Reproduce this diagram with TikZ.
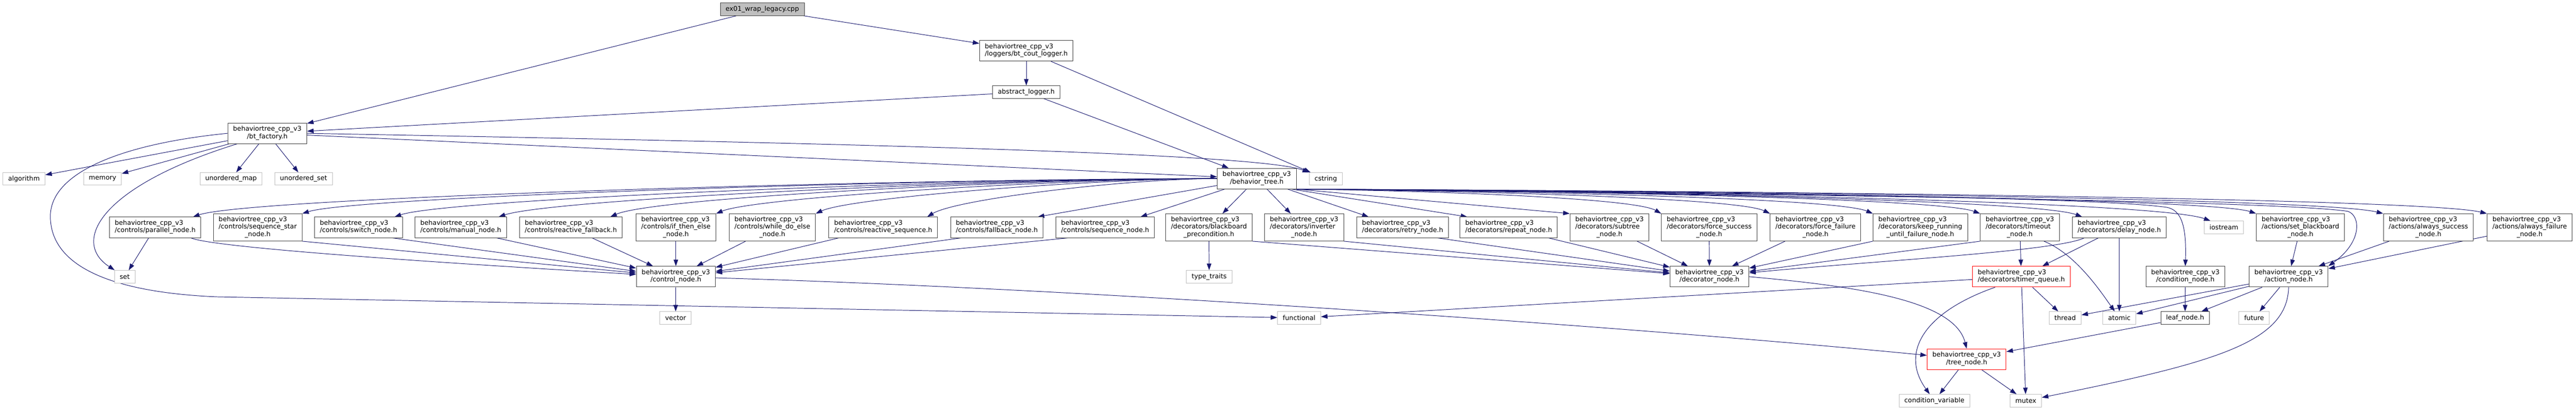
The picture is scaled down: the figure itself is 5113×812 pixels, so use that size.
\documentclass[tikz,border=0pt]{standalone}
\usepackage{fontspec}
\setmainfont{DejaVu Sans}
\usetikzlibrary{arrows.meta,backgrounds}
\definecolor{edgeblue}{HTML}{191970}
\newcommand{\inctwo}[1]{\begin{tabular}{@{}l@{}}behaviortree\_cpp\_v3\\\hfil#1\end{tabular}}
\newcommand{\incthree}[2]{\begin{tabular}{@{}l@{}}behaviortree\_cpp\_v3\\#1\\\hfil#2\end{tabular}}

\begin{document}
\begin{tikzpicture}[x=1pt,y=-1pt,
    every node/.style={font=\fontsize{13}{14.5}\selectfont},
    hdr/.style={rectangle,draw=black!75,fill=white,line width=1pt,inner xsep=10.5pt,inner ysep=0pt,minimum height=41pt},
    hdrtall/.style={hdr,minimum height=54pt},
    hdrline/.style={hdr,minimum height=25pt},
    ext/.style={hdrline,draw=black!25},
    trunc/.style={hdr,draw=red},
    root/.style={hdrline,fill=black!25},
    arrow/.style={-{Triangle[length=13pt,width=9pt]},draw=edgeblue,line width=1pt}
]
\useasboundingbox (0,0) rectangle (5113,812);

% Root and loggers
\node[root] (root) at (1513,18.5) {ex01\_wrap\_legacy.cpp};
\node[hdr] (coutlog) at (2037,101) {\inctwo{/loggers/bt\_cout\_logger.h}};
\node[hdrline] (abslog) at (2037,183) {abstract\_logger.h};

% Factory and tree
\node[hdr] (factory) at (530.5,265) {\inctwo{/bt\_factory.h}};
\node[hdr] (btree) at (2494.5,355) {\inctwo{/behavior\_tree.h}};

% System headers
\node[ext] (algorithm) at (47.5,355.5) {algorithm};
\node[ext] (memory) at (203.5,355.5) {memory};
\node[ext] (umap) at (458.5,355.5) {unordered\_map};
\node[ext] (uset) at (602.5,355.5) {unordered\_set};
\node[ext] (cstring) at (2631.5,355.5) {cstring};

% Controls
\node[hdr] (parallel) at (308,452) {\inctwo{/controls/parallel\_node.h}};
\node[hdrtall] (seqstar) at (511.5,452) {\incthree{/controls/sequence\_star}{\_node.h}};
\node[hdr] (switchn) at (711.5,452) {\inctwo{/controls/switch\_node.h}};
\node[hdr] (manual) at (914.5,452) {\inctwo{/controls/manual\_node.h}};
\node[hdr] (rfallback) at (1133,452) {\inctwo{/controls/reactive\_fallback.h}};
\node[hdrtall] (ifelse) at (1341.5,452) {\incthree{/controls/if\_then\_else}{\_node.h}};
\node[hdrtall] (whiledo) at (1533,452) {\incthree{/controls/while\_do\_else}{\_node.h}};
\node[hdr] (rseq) at (1753,452) {\inctwo{/controls/reactive\_sequence.h}};
\node[hdr] (fallback) at (1978.5,452) {\inctwo{/controls/fallback\_node.h}};
\node[hdr] (sequence) at (2193.5,452) {\inctwo{/controls/sequence\_node.h}};

% Decorators
\node[hdrtall] (bbprecond) at (2399.5,452) {\incthree{/decorators/blackboard}{\_precondition.h}};
\node[hdrtall] (inverter) at (2588.5,452) {\incthree{/decorators/inverter}{\_node.h}};
\node[hdr] (retry) at (2784,452) {\inctwo{/decorators/retry\_node.h}};
\node[hdr] (repeat) at (2994.5,452) {\inctwo{/decorators/repeat\_node.h}};
\node[hdrtall] (subtree) at (3194.5,452) {\incthree{/decorators/subtree}{\_node.h}};
\node[hdrtall] (fsuccess) at (3392.5,452) {\incthree{/decorators/force\_success}{\_node.h}};
\node[hdrtall] (ffailure) at (3603.5,452) {\incthree{/decorators/force\_failure}{\_node.h}};
\node[hdrtall] (keeprun) at (3811.5,452) {\incthree{/decorators/keep\_running}{\_until\_failure\_node.h}};
\node[hdrtall] (timeout) at (4009,452) {\incthree{/decorators/timeout}{\_node.h}};
\node[hdr] (delay) at (4206.5,452) {\inctwo{/decorators/delay\_node.h}};

% Actions
\node[ext] (iostream) at (4414,452) {iostream};
\node[hdrtall] (setbb) at (4566,452) {\incthree{/actions/set\_blackboard}{\_node.h}};
\node[hdrtall] (asuccess) at (4820,452) {\incthree{/actions/always\_success}{\_node.h}};
\node[hdrtall] (afailure) at (5021,452) {\incthree{/actions/always\_failure}{\_node.h}};

% Base nodes
\node[ext] (set) at (247.5,550) {set};
\node[hdr] (control) at (1341.5,550) {\inctwo{/control\_node.h}};
\node[ext] (typetraits) at (2400,550) {type\_traits};
\node[hdr] (decorator) at (3393,550) {\inctwo{/decorator\_node.h}};
\node[trunc] (timerq) at (4012,550) {\inctwo{/decorators/timer\_queue.h}};
\node[hdr] (condition) at (4337.5,550) {\inctwo{/condition\_node.h}};
\node[hdr] (action) at (4542.5,550) {\inctwo{/action\_node.h}};

% Lower level
\node[ext] (vector) at (1341,632) {vector};
\node[ext] (functional) at (2578.5,632) {functional};
\node[ext] (thread) at (4099,632) {thread};
\node[ext] (atomic) at (4206.5,632) {atomic};
\node[hdrline] (leaf) at (4337,632) {leaf\_node.h};
\node[ext] (future) at (4474,632) {future};
\node[trunc] (treenode) at (3903.5,714) {\inctwo{/tree\_node.h}};
\node[ext] (condvar) at (3839.5,796.5) {condition\_variable};
\node[ext] (mutex) at (4021,796.5) {mutex};

\begin{scope}[on background layer]
% Root and loggers
\draw[arrow] (root) -- (factory);
\draw[arrow] (root) -- (coutlog);
\draw[arrow] (coutlog) -- (abslog);
\draw[arrow] (coutlog) -- (cstring);
\draw[arrow] (abslog) -- (factory);
\draw[arrow] (abslog) -- (btree);

% Factory
\draw[arrow] (factory) -- (algorithm);
\draw[arrow] (factory) -- (memory);
\draw[arrow] (factory) -- (umap);
\draw[arrow] (factory) -- (uset);
\draw[arrow] (factory) -- (btree);
\draw[arrow] (factory.east) .. controls (1700,285) and (2500,305) .. (cstring);
\draw[arrow] ([xshift=19pt]factory.south west) .. controls (200,370) and (140,480) .. (set);
\draw[arrow] (factory.west) .. controls (250,285) and (100,340) .. (100,430) .. controls (100,520) and (200,580) .. (430,590) -- (functional);

% Behavior tree, left side
\draw[arrow] (btree) .. controls (1805,355) and (500,392) .. ([xshift=-16pt]parallel.north east);
\draw[arrow] (btree) .. controls (1870,355) and (710,390) .. (seqstar.north east);
\draw[arrow] (btree) .. controls (1925,355) and (890,395) .. ([xshift=-16pt]switchn.north east);
\draw[arrow] (btree) .. controls (1987,355) and (1100,395) .. ([xshift=-16pt]manual.north east);
\draw[arrow] (btree) .. controls (2054,355) and (1300,392) .. ([xshift=-24pt]rfallback.north east);
\draw[arrow] (btree) .. controls (2117,355) and (1500,392) .. (ifelse.north east);
\draw[arrow] (btree) .. controls (2177,355) and (1690,392) .. (whiledo.north east);
\draw[arrow] (btree) .. controls (2242,355) and (1900,395) .. ([xshift=-21pt]rseq.north east);
\draw[arrow] (btree) -- ([xshift=-11pt]fallback.north east);
\draw[arrow] (btree) -- ([xshift=-28pt]sequence.north east);
\draw[arrow] (btree) -- (bbprecond);
\draw[arrow] (btree) -- (inverter);

% Behavior tree, right side
\draw[arrow] (btree) -- ([xshift=24pt]retry.north west);
\draw[arrow] ([xshift=-10pt]btree.south east) -- ([xshift=15pt]repeat.north west);
\draw[arrow] (btree.south east) -- (subtree.north west);
\draw[arrow] (btree.south east) .. controls (2791,378) and (3241,392) .. (fsuccess.north west);
\draw[arrow] (btree.south east) .. controls (2856,378) and (3446,392) .. (ffailure.north west);
\draw[arrow] (btree.south east) .. controls (2917,378) and (3641,392) .. (keeprun.north west);
\draw[arrow] (btree.south east) .. controls (2981,378) and (3842,392) .. (timeout.north west);
\draw[arrow] (btree.south east) .. controls (3042,378) and (4035,395) .. ([xshift=20pt]delay.north west);
\draw[arrow] (btree.south east) .. controls (3118,378) and (4275,398) .. ([xshift=13pt]iostream.north west);
\draw[arrow] (btree.south east) .. controls (3145,378) and (4380,392) .. (setbb.north west);
\draw[arrow] (btree.south east) .. controls (3220,378) and (4600,392) .. (asuccess.north west);
\draw[arrow] (btree.south east) .. controls (3282,378) and (4800,392) .. (afailure.north west);
\draw[arrow] (btree.south east) .. controls (3800,385) and (4200,398) .. (4300,412) .. controls (4330,417) and (4340,450) .. (condition.north);
\draw[arrow] (btree.south east) .. controls (4000,390) and (4560,405) .. (4660,420) .. controls (4685,428) and (4690,480) .. (action.north east);

% Controls into control node
\draw[arrow] (parallel) -- (set);
\draw[arrow] ([xshift=-20pt]parallel.south east) .. controls (430,495) and (1000,530) .. (control);
\draw[arrow] (seqstar.south east) -- (control);
\draw[arrow] ([xshift=-20pt]switchn.south east) -- (control);
\draw[arrow] ([xshift=-20pt]manual.south east) -- (control);
\draw[arrow] ([xshift=-60pt]rfallback.south east) -- (control);
\draw[arrow] (ifelse) -- (control);
\draw[arrow] ([xshift=33pt]whiledo.south west) -- (control);
\draw[arrow] ([xshift=20pt]rseq.south west) -- (control);
\draw[arrow] ([xshift=21pt]fallback.south west) -- (control);
\draw[arrow] ([xshift=24pt]sequence.south west) -- (control);
\draw[arrow] (control) -- (vector);
\draw[arrow] (control) .. controls (2200,575) and (3300,655) .. (treenode);

% Decorators into decorator node
\draw[arrow] (bbprecond) -- (typetraits);
\draw[arrow] (bbprecond.south east) -- (decorator);
\draw[arrow] (inverter.south east) -- (decorator);
\draw[arrow] ([xshift=-22pt]retry.south east) -- (decorator);
\draw[arrow] ([xshift=-18pt]repeat.south east) -- (decorator);
\draw[arrow] ([xshift=-24pt]subtree.south east) -- (decorator);
\draw[arrow] (fsuccess) -- (decorator);
\draw[arrow] ([xshift=30pt]ffailure.south west) -- (decorator);
\draw[arrow] (keeprun.south west) -- (decorator);
\draw[arrow] (timeout.south west) -- (decorator);
\draw[arrow] ([xshift=24pt]delay.south west) .. controls (4080,500) and (3700,520) .. (decorator);
\draw[arrow] (decorator.east) .. controls (3700,570) and (3880,600) .. (treenode.north);

% Timer queue
\draw[arrow] (timeout) -- (timerq);
\draw[arrow] ([xshift=-31pt]timeout.south east) .. controls (4120,505) and (4170,580) .. (atomic);
\draw[arrow] (delay) -- (timerq);
\draw[arrow] (delay) -- (atomic);
\draw[arrow] (timerq) -- (thread);
\draw[arrow] (timerq) -- (mutex);
\draw[arrow] ([xshift=-52pt]timerq.south) .. controls (3820,620) and (3770,700) .. (condvar);
\draw[arrow] (timerq) -- (functional);

% Tree node
\draw[arrow] (treenode) -- (condvar);
\draw[arrow] (treenode) -- (mutex);
\draw[arrow] (leaf) -- (treenode);

% Leaf and actions
\draw[arrow] (condition) -- (leaf);
\draw[arrow] (action) -- (leaf);
\draw[arrow] (action) -- (future);
\draw[arrow] (action) -- (atomic);
\draw[arrow] (action) -- (thread);
\draw[arrow] (action.south) .. controls (4540,680) and (4400,720) .. (mutex);
\draw[arrow] (setbb) -- (action);
\draw[arrow] (asuccess) -- (action);
\draw[arrow] (afailure) -- (action);
\end{scope}

\end{tikzpicture}
\end{document}
